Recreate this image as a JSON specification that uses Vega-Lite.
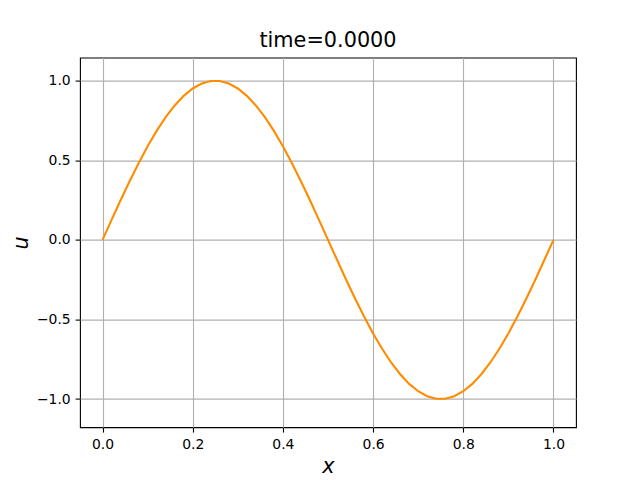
{
  "$schema": "https://vega.github.io/schema/vega-lite/v6.json",
  "width": 496,
  "height": 369.6,
  "autosize": "none",
  "padding": {"left": 80, "top": 57.6, "right": 64, "bottom": 52.8},
  "background": "white",
  "title": {
    "text": "time=0.0000",
    "font": "DejaVu Sans",
    "fontSize": 20.8,
    "fontWeight": "normal",
    "color": "black",
    "anchor": "middle",
    "baseline": "alphabetic",
    "offset": 11,
    "dy": 20.7
  },
  "config": {
    "view": {"stroke": "black", "strokeWidth": 1.1},
    "axis": {
      "labelFont": "DejaVu Sans",
      "labelFontSize": 13.9,
      "labelColor": "black",
      "tickColor": "black",
      "tickSize": 4.9,
      "tickWidth": 1.1,
      "labelPadding": 4.9,
      "domain": false,
      "gridColor": "#b0b0b0",
      "gridWidth": 1.1,
      "gridOpacity": 1,
      "titleFont": "DejaVu Sans",
      "titleFontSize": 20.8,
      "titleFontWeight": "normal",
      "titleFontStyle": "italic",
      "titleColor": "black"
    }
  },
  "data": {
    "values": [
      {"x": 0.00, "u": 0},
      {"x": 0.02, "u": 0.1253},
      {"x": 0.04, "u": 0.2487},
      {"x": 0.06, "u": 0.3681},
      {"x": 0.08, "u": 0.4818},
      {"x": 0.10, "u": 0.5878},
      {"x": 0.12, "u": 0.6845},
      {"x": 0.14, "u": 0.7705},
      {"x": 0.16, "u": 0.8443},
      {"x": 0.18, "u": 0.9048},
      {"x": 0.20, "u": 0.9511},
      {"x": 0.22, "u": 0.9823},
      {"x": 0.24, "u": 0.9980},
      {"x": 0.26, "u": 0.9980},
      {"x": 0.28, "u": 0.9823},
      {"x": 0.30, "u": 0.9511},
      {"x": 0.32, "u": 0.9048},
      {"x": 0.34, "u": 0.8443},
      {"x": 0.36, "u": 0.7705},
      {"x": 0.38, "u": 0.6845},
      {"x": 0.40, "u": 0.5878},
      {"x": 0.42, "u": 0.4818},
      {"x": 0.44, "u": 0.3681},
      {"x": 0.46, "u": 0.2487},
      {"x": 0.48, "u": 0.1253},
      {"x": 0.50, "u": 0},
      {"x": 0.52, "u": -0.1253},
      {"x": 0.54, "u": -0.2487},
      {"x": 0.56, "u": -0.3681},
      {"x": 0.58, "u": -0.4818},
      {"x": 0.60, "u": -0.5878},
      {"x": 0.62, "u": -0.6845},
      {"x": 0.64, "u": -0.7705},
      {"x": 0.66, "u": -0.8443},
      {"x": 0.68, "u": -0.9048},
      {"x": 0.70, "u": -0.9511},
      {"x": 0.72, "u": -0.9823},
      {"x": 0.74, "u": -0.9980},
      {"x": 0.76, "u": -0.9980},
      {"x": 0.78, "u": -0.9823},
      {"x": 0.80, "u": -0.9511},
      {"x": 0.82, "u": -0.9048},
      {"x": 0.84, "u": -0.8443},
      {"x": 0.86, "u": -0.7705},
      {"x": 0.88, "u": -0.6845},
      {"x": 0.90, "u": -0.5878},
      {"x": 0.92, "u": -0.4818},
      {"x": 0.94, "u": -0.3681},
      {"x": 0.96, "u": -0.2487},
      {"x": 0.98, "u": -0.1253},
      {"x": 1.00, "u": 0}
    ]
  },
  "mark": {"type": "line", "color": "#ff8c00", "strokeWidth": 2.1, "clip": true},
  "encoding": {
    "x": {
      "field": "x",
      "type": "quantitative",
      "scale": {"domain": [-0.05, 1.05], "nice": false, "zero": false},
      "axis": {
        "values": [0, 0.2, 0.4, 0.6, 0.8, 1.0],
        "format": ".1f",
        "title": "x",
        "titleBaseline": "alphabetic",
        "titleY": 45,
        "titleAnchor": "middle"
      }
    },
    "y": {
      "field": "u",
      "type": "quantitative",
      "scale": {"domain": [-1.177, 1.145], "nice": false, "zero": false},
      "axis": {
        "values": [-1, -0.5, 0, 0.5, 1],
        "format": ".1f",
        "title": "u",
        "titleAngle": -90,
        "titleBaseline": "alphabetic",
        "titleX": -53,
        "titleAnchor": "middle"
      }
    }
  }
}
